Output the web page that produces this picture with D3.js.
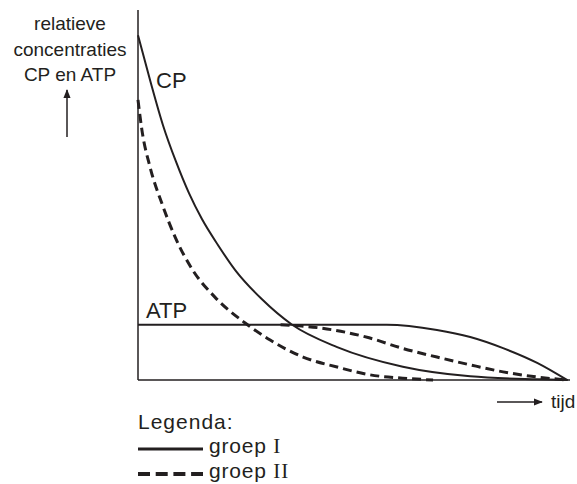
<!DOCTYPE html>
<html>
<head>
<meta charset="utf-8">
<script src="https://cdn.jsdelivr.net/npm/d3@7"></script>
<style>
  body { margin: 0; background: #fff; }
  text { font-family: "Liberation Sans", Arial, sans-serif; fill: #231f20; }
</style>
</head>
<body>
<svg id="chart" width="577" height="484"></svg>
<script>
"use strict";

// relatieve concentratie (0-100) tegen tijd (0-100)
var cpGroep1 = [[0, 93.2], [2.8, 81], [5.8, 68.8], [8.8, 59], [11.8, 50.5], [14.8, 43.5], [18.5, 36.5],
  [22.5, 29.7], [28.7, 21.8], [35.6, 15], [46.1, 8.9], [61.3, 3.6], [76.9, 1], [92.4, 0.2], [99.5, 0]];
var cpGroep2 = [[0, 75.7], [0.9, 67.6], [2.8, 57.5], [5.6, 47.5], [8.6, 38.6], [12.5, 30], [17.8, 22.4],
  [24.8, 15.4], [30.6, 10.8], [38.2, 6.2], [46.1, 3.5], [53.7, 1.4], [61.3, 0.5], [68.3, 0]];
var atpGroep1 = [[0, 14.9], [57.6, 14.9], [69.2, 13.5], [76.9, 11.6], [84.5, 8.6], [92.4, 4.6], [99.3, 0]];
var atpGroep2 = [[33, 14.9], [41.9, 14.1], [53.5, 11.4], [61.1, 8.6], [69.2, 6.2], [76.9, 4.1],
  [84.5, 2.2], [92.4, 0.8], [99.5, 0]];

var yLabel = ["relatieve", "concentraties", "CP en ATP"];
var xLabel = "tijd";
var legendTitle = "Legenda:";
var legendItems = [{naam: "groep ", nr: "I", dashed: false}, {naam: "groep ", nr: "II", dashed: true}];

var svg = d3.select("#chart");
var x = d3.scaleLinear().domain([0, 100]).range([138, 570]);
var y = d3.scaleLinear().domain([0, 100]).range([380, 10]);

var ink = "#231f20";

//assen
svg.append("line").attr("x1", x(0)).attr("x2", x(0)).attr("y1", y(100)).attr("y2", y(0))
  .attr("stroke", ink).attr("stroke-width", 1.5);
svg.append("line").attr("x1", x(0)).attr("x2", x(100)).attr("y1", y(0)).attr("y2", y(0))
  .attr("stroke", ink).attr("stroke-width", 1.5);

var line = d3.line()
  .x(function (d) { return x(d[0]); })
  .y(function (d) { return y(d[1]); })
  .curve(d3.curveMonotoneX);

function drawCurve(data, dashed) {
  svg.append("path")
    .datum(data)
    .attr("d", line)
    .attr("fill", "none")
    .attr("stroke", ink)
    .attr("stroke-width", dashed ? 3 : 2)
    .attr("stroke-dasharray", dashed ? "9,5" : null);
}

drawCurve(atpGroep2, true);
drawCurve(cpGroep2, true);
drawCurve(atpGroep1, false);
drawCurve(cpGroep1, false);

//labels bij de curves
svg.append("text").attr("x", 156).attr("y", 88).attr("font-size", 22).text("CP");
svg.append("text").attr("x", 146).attr("y", 318).attr("font-size", 22).text("ATP");

//y-as titel met pijl
svg.selectAll(".ylab")
  .data(yLabel)
  .enter()
  .append("text")
    .attr("class", "ylab")
    .attr("x", 70)
    .attr("y", function (d, i) { return 30 + i * 25.5; })
    .attr("text-anchor", "middle")
    .attr("font-size", 19)
    .text(function (d) { return d; });

svg.append("defs").append("marker")
  .attr("id", "pijl")
  .attr("viewBox", "0 0 10 10")
  .attr("refX", 9).attr("refY", 5)
  .attr("markerWidth", 9).attr("markerHeight", 9)
  .attr("markerUnits", "userSpaceOnUse")
  .attr("orient", "auto")
  .append("path").attr("d", "M0,1 L10,5 L0,9 Z").attr("fill", ink);

svg.append("line").attr("x1", 67).attr("x2", 67).attr("y1", 137).attr("y2", 90)
  .attr("stroke", ink).attr("stroke-width", 1.5).attr("marker-end", "url(#pijl)");

//x-as titel met pijl
svg.append("line").attr("x1", 497).attr("x2", 542).attr("y1", 402).attr("y2", 402)
  .attr("stroke", ink).attr("stroke-width", 1.5).attr("marker-end", "url(#pijl)");
svg.append("text").attr("x", 551).attr("y", 408).attr("font-size", 19).text(xLabel);

//legenda
svg.append("text").attr("x", 138).attr("y", 429).attr("font-size", 21)
  .attr("letter-spacing", 1).text(legendTitle);

var leg = svg.selectAll(".leg")
  .data(legendItems)
  .enter()
  .append("g")
    .attr("class", "leg")
    .attr("transform", function (d, i) { return "translate(0," + (449 + i * 25) + ")"; });

leg.append("line")
  .attr("x1", 138).attr("x2", 203).attr("y1", 0).attr("y2", 0)
  .attr("stroke", ink)
  .attr("stroke-width", function (d) { return d.dashed ? 4 : 3; })
  .attr("stroke-dasharray", function (d) { return d.dashed ? "12,5.7" : null; });

var legText = leg.append("text")
  .attr("x", 209).attr("y", 4)
  .attr("font-size", 21)
  .attr("letter-spacing", 0.8);
legText.append("tspan").text(function (d) { return d.naam; });
legText.append("tspan")
  .style("font-family", "'Liberation Serif', 'Times New Roman', serif")
  .text(function (d) { return d.nr; });
</script>
</body>
</html>
